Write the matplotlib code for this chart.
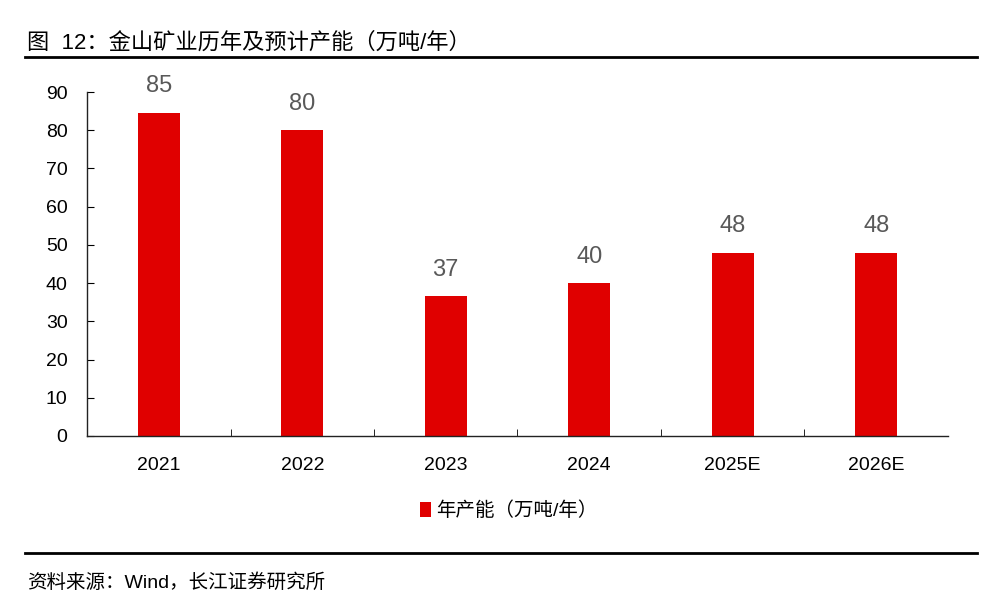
import numpy as np
import matplotlib as mpl
mpl.use("Agg")
import matplotlib.pyplot as plt
from matplotlib.lines import Line2D

plt.rcParams["font.family"] = ["Liberation Sans", "Noto Sans CJK SC", "DejaVu Sans"]

years = ["2021", "2022", "2023", "2024", "2025E", "2026E"]
capacity = [84.6, 80.1, 36.6, 40.0, 48.0, 48.0]
labels = ["85", "80", "37", "40", "48", "48"]

title = "图  12：金山矿业历年及预计产能（万吨/年）"
legend_name = "年产能（万吨/年）"
source = "资料来源：Wind，长江证券研究所"

red = "#E00000"


def main():
    fig = plt.figure(figsize=(10.07, 6.09), dpi=100)
    ax = fig.add_axes([0.0864, 0.2841, 0.855, 0.5648])

    x = np.arange(len(years))
    ax.bar(x, capacity, width=0.29, color=red, label=legend_name, zorder=2)
    for xi, v, t in zip(x, capacity, labels):
        ax.text(xi, v + 4, t, ha="center", va="bottom", fontsize=17, color="#595959")

    ax.set_xlim(-0.5, len(years) - 0.5)
    ax.set_ylim(0, 90)
    ax.set_yticks(range(0, 91, 10))
    ax.tick_params(axis="y", direction="in", length=5, labelsize=14, pad=14)
    ax.set_xticks(x)
    ax.set_xticklabels(years, fontsize=14)
    ax.tick_params(axis="x", length=0, pad=15)
    ax.set_xticks(np.arange(0.5, len(years) - 1, 1), minor=True)
    ax.tick_params(axis="x", which="minor", direction="in", length=5)
    for s in ["top", "right"]:
        ax.spines[s].set_visible(False)
    for s in ["left", "bottom"]:
        ax.spines[s].set_color("#222222")
        ax.spines[s].set_linewidth(1)

    ax.legend(loc="upper center", bbox_to_anchor=(0.49, -0.14), frameon=False,
              fontsize=14, handlelength=0.55, handleheight=0.8, handletextpad=0.3)

    fig.text(0.027, 0.929, title, fontsize=16, ha="left", va="center")
    fig.add_artist(Line2D([0.025, 0.970], [0.906, 0.906], color="black", lw=2))
    fig.add_artist(Line2D([0.025, 0.970], [0.092, 0.092], color="black", lw=2))
    fig.text(0.027, 0.044, source, fontsize=14, ha="left", va="center")

    fig.savefig("out.png", dpi=100)


if __name__ == "__main__":
    main()
